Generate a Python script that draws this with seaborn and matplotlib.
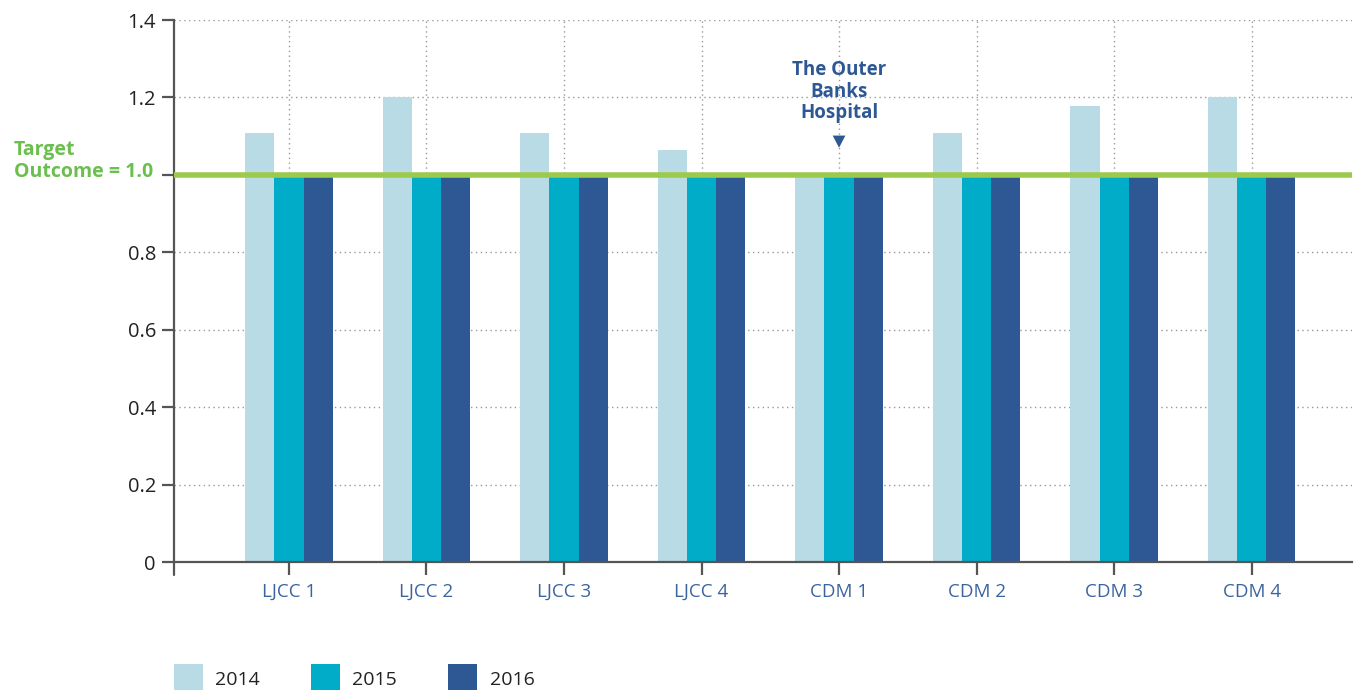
import numpy as np
import pandas as pd
import matplotlib
matplotlib.use("Agg")
import matplotlib.pyplot as plt
import seaborn as sns
from matplotlib.patches import Patch

categories = ["LJCC 1", "LJCC 2", "LJCC 3", "LJCC 4", "CDM 1", "CDM 2", "CDM 3", "CDM 4"]
years = ["2014", "2015", "2016"]
values_2014 = [1.107, 1.20, 1.107, 1.063, 1.0, 1.107, 1.178, 1.20]
values_2015 = [1.0, 1.0, 1.0, 1.0, 1.0, 1.0, 1.0, 1.0]
values_2016 = [1.0, 1.0, 1.0, 1.0, 1.0, 1.0, 1.0, 1.0]
yticks = [0, 0.2, 0.4, 0.6, 0.8, 1.0, 1.2, 1.4]
ytick_labels = ["0", "0.2", "0.4", "0.6", "0.8", "", "1.2", "1.4"]
target_value = 1.0
colors = ["#B9DBE6", "#00ACC8", "#2E5894"]

df = pd.DataFrame({
    "category": categories * 3,
    "year": [years[0]] * 8 + [years[1]] * 8 + [years[2]] * 8,
    "value": values_2014 + values_2015 + values_2016,
})

sns.set_theme(style="white")
plt.rcParams["font.family"] = ["Open Sans", "DejaVu Sans"]

fig = plt.figure(figsize=(13.54, 6.90), dpi=100)
ax = fig.add_axes([174 / 1354, 1 - 562 / 690, (1352 - 174) / 1354, (562 - 20) / 690])

sns.barplot(data=df, x="category", y="value", hue="year", order=categories,
            hue_order=years, palette=colors, width=0.635, gap=0,
            saturation=1, ax=ax, legend=False, zorder=2, linewidth=0)

ax.set_xlim(-0.836, 7.73)
ax.set_ylim(0, 1.4)
ax.set_yticks(yticks)
ax.set_yticklabels(ytick_labels)
ax.set_xlabel("")
ax.set_ylabel("")

# gridlines
ax.grid(True, axis="both", linestyle=(0, (1, 2.5)), color="#999999", linewidth=1.0, zorder=0)
ax.set_axisbelow(True)

for s in ["top", "right"]:
    ax.spines[s].set_visible(False)
for s in ["left", "bottom"]:
    ax.spines[s].set_color("#555555")
    ax.spines[s].set_linewidth(1.6)
ax.plot([0, 0], [0, -0.024], transform=ax.transAxes, color="#555555", lw=1.6, clip_on=False)

ax.tick_params(axis="y", direction="out", length=9, width=1.6, color="#555555",
               labelsize=14.5, labelcolor="#222222", pad=4, left=True)
ax.tick_params(axis="x", direction="out", length=9, width=1.6, color="#555555",
               labelsize=13.5, labelcolor="#3A64A0", pad=6, bottom=True)

# target line
ax.axhline(target_value, color="#9CCB4C", linewidth=4.0, zorder=5)
ax.text(-0.018, 1.036, "Target\nOutcome = 1.0", transform=ax.get_yaxis_transform(),
        ha="right", va="center", multialignment="left", color="#6BBF4E",
        fontsize=14, fontweight="bold", linespacing=1.15)

# annotation
ax.annotate("The Outer\nBanks\nHospital", xy=(4, 1.07), xytext=(4, 1.133),
            ha="center", va="bottom", color="#2E5894", fontsize=13.5, fontweight="bold",
            linespacing=1.12,
            arrowprops=dict(arrowstyle="-|>,head_length=0.65,head_width=0.34",
                            color="#2E5894", lw=0, shrinkA=0, shrinkB=0))

handles = [Patch(facecolor=c, edgecolor="none", label=y) for c, y in zip(colors, years)]
fig.legend(handles=handles, loc="lower left", bbox_to_anchor=(156 / 1354, -0.03),
           ncol=3, frameon=False, fontsize=14, handlelength=1.5, handleheight=1.9,
           handletextpad=0.65, columnspacing=2.6, labelcolor="#222222")

fig.savefig("out.png", dpi=100)
